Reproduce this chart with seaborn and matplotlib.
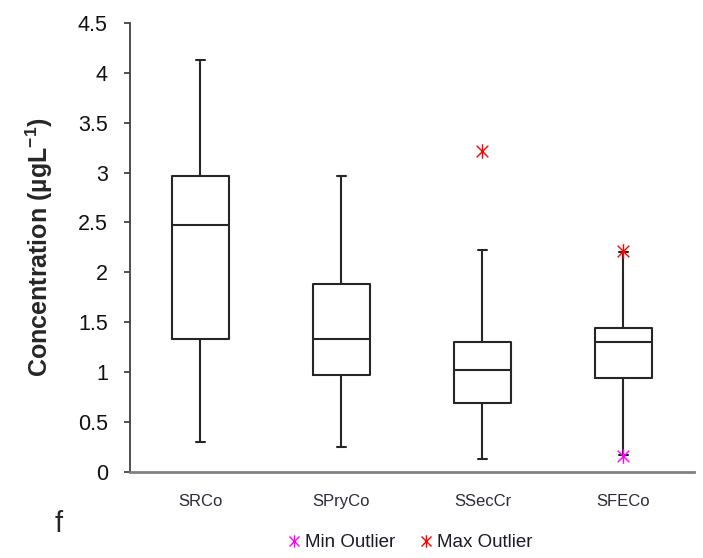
import numpy as np
import pandas as pd
import matplotlib
matplotlib.use("Agg")
import matplotlib.pyplot as plt
from matplotlib.lines import Line2D
from matplotlib.path import Path
import seaborn as sns

sns.set_theme(style="white")
plt.rcParams["font.family"] = ["Liberation Sans", "DejaVu Sans"]
plt.rcParams["mathtext.fontset"] = "custom"
plt.rcParams["mathtext.rm"] = "Liberation Sans"
plt.rcParams["mathtext.bf"] = "Liberation Sans:bold"

# five-number summaries
categories = ["SRCo", "SPryCo", "SSecCr", "SFECo"]
mins = [0.30, 0.25, 0.13, 0.17]
q1 = [1.33, 0.97, 0.69, 0.94]
medians = [2.47, 1.33, 1.02, 1.30]
q3 = [2.97, 1.88, 1.30, 1.44]
maxs = [4.13, 2.97, 2.22, 2.20]

max_outlier_cats = ["SSecCr", "SFECo"]
max_outlier_vals = [3.22, 2.21]
min_outlier_cats = ["SFECo"]
min_outlier_vals = [0.16]

yticks = [0, 0.5, 1, 1.5, 2, 2.5, 3, 3.5, 4, 4.5]
ytick_labels = ["0", "0.5", "1", "1.5", "2", "2.5", "3", "3.5", "4", "4.5"]

rows = []
for i, cat in enumerate(categories):
    for v in (mins[i], q1[i], medians[i], q3[i], maxs[i]):
        rows.append({"group": cat, "value": v})
df = pd.DataFrame(rows)

box_color = "#262626"

# excel-style star marker: vertical bar plus an X
star = Path([(0, -1), (0, 1), (-0.8, -0.8), (0.8, 0.8), (-0.8, 0.8), (0.8, -0.8)],
            [Path.MOVETO, Path.LINETO, Path.MOVETO, Path.LINETO, Path.MOVETO, Path.LINETO])

fig, ax = plt.subplots(figsize=(7.03, 5.58), dpi=100)
fig.subplots_adjust(left=0.1849, right=0.9872, bottom=0.1547, top=0.9588)

sns.boxplot(data=df, x="group", y="value", order=categories, whis=np.inf,
            fill=False, color=box_color, linewidth=1.5, width=0.4,
            capwidths=0.07, ax=ax)

pos = {c: i for i, c in enumerate(categories)}
sns.scatterplot(x=[pos[c] for c in max_outlier_cats], y=max_outlier_vals,
                marker=star, s=110, color="#ff0000", edgecolor="#ff0000",
                linewidth=1.0, zorder=4, ax=ax)
sns.scatterplot(x=[pos[c] for c in min_outlier_cats], y=min_outlier_vals,
                marker=star, s=110, color="#ff00ff", edgecolor="#ff00ff",
                linewidth=1.0, zorder=4, ax=ax)

ax.set_xlim(-0.5, 3.5)
ax.set_ylim(0, 4.5)
ax.set_yticks(yticks)
ax.set_yticklabels(ytick_labels, fontsize=15.5, color="#111111")
ax.set_xticks(range(len(categories)))
ax.set_xticklabels(categories, fontsize=12, color="#2a2a3a")
ax.set_xticks(np.arange(-0.5, 4, 1), minor=True)
ax.tick_params(axis="x", which="major", length=0, pad=16)
ax.tick_params(axis="x", which="minor", length=4, width=1.2, color="#333333", direction="out")
ax.tick_params(axis="y", which="major", length=4, width=1.2, color="#333333",
               direction="out", pad=12, left=True)

ax.set_xlabel("")
ax.set_ylabel(r"Concentration (µgL$\mathbf{^{-1}}$)", fontsize=18, fontweight="bold")
ax.yaxis.set_label_coords(-0.133, 0.5)

sns.despine(ax=ax)
ax.spines["left"].set_color("#404040")
ax.spines["left"].set_linewidth(1.3)
ax.spines["bottom"].set_color("#808080")
ax.spines["bottom"].set_linewidth(2)
ax.grid(False)

fig.text(0.084, 0.046, "f", fontsize=21, ha="center", va="baseline")

handles = [
    Line2D([], [], linestyle="none", marker=star, markersize=9,
           color="#ff00ff", markeredgewidth=1.0),
    Line2D([], [], linestyle="none", marker=star, markersize=9,
           color="#ff0000", markeredgewidth=1.0),
]
fig.legend(handles, ["Min Outlier", "Max Outlier"], loc="center",
           bbox_to_anchor=(0.583, 0.027), ncol=2, frameon=False,
           fontsize=13.5, handlelength=0.7, handletextpad=0.25,
           columnspacing=1.3, labelcolor="#1a1a2a")

fig.savefig("out.png", dpi=100)
